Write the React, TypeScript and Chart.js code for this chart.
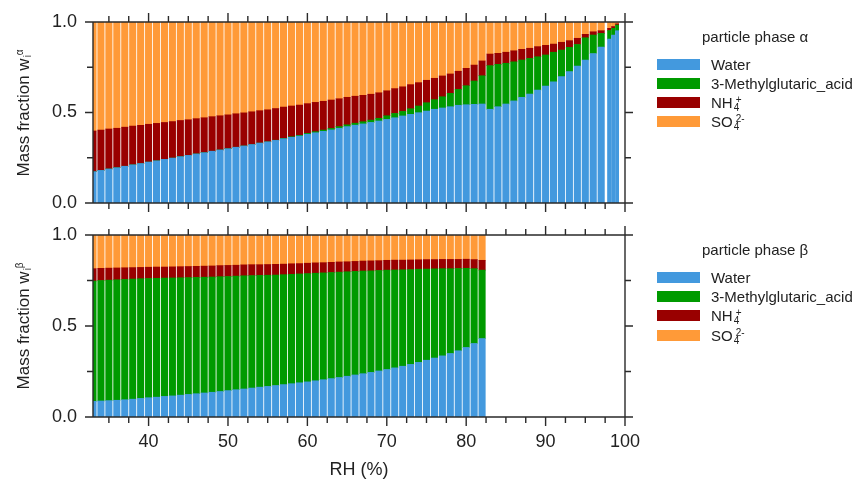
import React, { useEffect, useRef } from 'react';
import { Chart, registerables } from 'chart.js';

Chart.register(...registerables);

const FONT = '"Liberation Sans", Arial, Helvetica, sans-serif';
Chart.defaults.font.family = FONT;

// ---------- data: particle phase alpha ----------
const RH_ALPHA = [
  33, 34, 35, 36, 37, 38, 39, 40, 41, 42, 43, 44, 45, 46, 47, 48, 49, 50, 51, 52, 53, 54, 55, 56, 57,
  58, 59, 60, 61, 62, 63, 64, 65, 66, 67, 68, 69, 70, 71, 72, 73, 74, 75, 76, 77, 78, 79, 80, 81, 82,
  83, 84, 85, 86, 87, 88, 89, 90, 91, 92, 93, 94, 95, 96, 97, 98, 98.5, 99,
];
const WATER_ALPHA = [
  0.173, 0.180, 0.188, 0.195, 0.203, 0.211, 0.218, 0.226, 0.233, 0.241, 0.248, 0.256, 0.263, 0.271, 0.278,
  0.286, 0.293, 0.300, 0.308, 0.315, 0.323, 0.331, 0.338, 0.346, 0.355, 0.363, 0.370, 0.380, 0.388, 0.396,
  0.404, 0.413, 0.422, 0.430, 0.437, 0.445, 0.453, 0.462, 0.471, 0.481, 0.490, 0.499, 0.508, 0.518, 0.525,
  0.532, 0.540, 0.543, 0.545, 0.547, 0.518, 0.532, 0.547, 0.564, 0.584, 0.602, 0.624, 0.646, 0.670, 0.698,
  0.726, 0.757, 0.790, 0.826, 0.862, 0.905, 0.928, 0.952,
];
const ACID_ALPHA = [
  0, 0, 0, 0, 0, 0, 0, 0, 0, 0, 0, 0, 0, 0, 0, 0, 0, 0, 0, 0, 0, 0, 0, 0.001, 0.002,
  0.003, 0.004, 0.005, 0.006, 0.007, 0.008, 0.009, 0.010, 0.011, 0.012, 0.013, 0.015, 0.020, 0.024, 0.025,
  0.031, 0.037, 0.046, 0.053, 0.062, 0.074, 0.088, 0.105, 0.129, 0.156, 0.241, 0.234, 0.225, 0.216, 0.206,
  0.197, 0.184, 0.172, 0.163, 0.147, 0.134, 0.119, 0.123, 0.102, 0.075, 0.048, 0.037, 0.031,
];
const NH4_ALPHA = [
  0.225, 0.223, 0.221, 0.218, 0.216, 0.214, 0.211, 0.209, 0.207, 0.204, 0.202, 0.200, 0.197, 0.195, 0.193,
  0.191, 0.189, 0.187, 0.185, 0.183, 0.181, 0.179, 0.177, 0.175, 0.173, 0.170, 0.167, 0.164, 0.162, 0.159,
  0.157, 0.154, 0.152, 0.149, 0.146, 0.143, 0.141, 0.138, 0.137, 0.136, 0.133, 0.129, 0.124, 0.118, 0.115,
  0.107, 0.100, 0.096, 0.088, 0.082, 0.064, 0.061, 0.061, 0.061, 0.059, 0.056, 0.056, 0.053, 0.045, 0.043,
  0.037, 0.034, 0.019, 0.018, 0.015, 0.012, 0.010, 0.007,
];
const SO4_ALPHA = [
  0.602, 0.597, 0.591, 0.587, 0.581, 0.575, 0.571, 0.565, 0.560, 0.555, 0.550, 0.544, 0.540, 0.534, 0.529,
  0.523, 0.518, 0.513, 0.507, 0.502, 0.496, 0.490, 0.485, 0.478, 0.470, 0.464, 0.459, 0.451, 0.444, 0.438,
  0.431, 0.424, 0.416, 0.410, 0.405, 0.399, 0.391, 0.380, 0.368, 0.358, 0.346, 0.335, 0.322, 0.311, 0.298,
  0.287, 0.272, 0.256, 0.238, 0.215, 0.177, 0.173, 0.167, 0.159, 0.151, 0.145, 0.136, 0.129, 0.122, 0.112,
  0.103, 0.090, 0.068, 0.054, 0.048, 0.035, 0.025, 0.010,
];

// ---------- data: particle phase beta ----------
const RH_BETA = [
  33, 34, 35, 36, 37, 38, 39, 40, 41, 42, 43, 44, 45, 46, 47, 48, 49, 50, 51, 52, 53, 54, 55, 56, 57,
  58, 59, 60, 61, 62, 63, 64, 65, 66, 67, 68, 69, 70, 71, 72, 73, 74, 75, 76, 77, 78, 79, 80, 81, 82,
];
const WATER_BETA = [
  0.086, 0.088, 0.090, 0.092, 0.095, 0.098, 0.102, 0.106, 0.109, 0.113, 0.116, 0.120, 0.124, 0.128, 0.132,
  0.136, 0.140, 0.145, 0.150, 0.154, 0.159, 0.164, 0.168, 0.173, 0.178, 0.183, 0.188, 0.193, 0.199, 0.205,
  0.211, 0.217, 0.224, 0.231, 0.238, 0.245, 0.253, 0.261, 0.270, 0.279, 0.289, 0.300, 0.312, 0.324, 0.336,
  0.349, 0.364, 0.382, 0.404, 0.431,
];
const ACID_BETA = [
  0.661, 0.662, 0.662, 0.662, 0.661, 0.660, 0.658, 0.655, 0.653, 0.650, 0.648, 0.645, 0.642, 0.639, 0.636,
  0.633, 0.631, 0.627, 0.624, 0.622, 0.618, 0.614, 0.611, 0.607, 0.604, 0.601, 0.598, 0.595, 0.591, 0.587,
  0.583, 0.579, 0.574, 0.569, 0.564, 0.558, 0.552, 0.546, 0.538, 0.530, 0.521, 0.512, 0.501, 0.490, 0.479,
  0.466, 0.452, 0.435, 0.411, 0.376,
];
const NH4_BETA = [
  0.068, 0.067, 0.066, 0.065, 0.064, 0.063, 0.062, 0.062, 0.062, 0.061, 0.061, 0.061, 0.061, 0.061, 0.061,
  0.061, 0.061, 0.061, 0.060, 0.060, 0.060, 0.059, 0.059, 0.059, 0.058, 0.058, 0.057, 0.057, 0.057, 0.056,
  0.056, 0.056, 0.055, 0.055, 0.055, 0.055, 0.054, 0.054, 0.054, 0.053, 0.053, 0.052, 0.052, 0.051, 0.051,
  0.051, 0.050, 0.050, 0.050, 0.054,
];
const SO4_BETA = [
  0.185, 0.183, 0.182, 0.181, 0.180, 0.179, 0.178, 0.177, 0.176, 0.176, 0.175, 0.174, 0.173, 0.172, 0.171,
  0.170, 0.168, 0.167, 0.166, 0.164, 0.163, 0.163, 0.162, 0.161, 0.160, 0.158, 0.157, 0.155, 0.153, 0.152,
  0.150, 0.148, 0.147, 0.145, 0.143, 0.142, 0.141, 0.139, 0.138, 0.138, 0.137, 0.136, 0.135, 0.135, 0.134,
  0.134, 0.134, 0.133, 0.135, 0.139,
];

// ---------- labels / styling ----------
const SERIES_LABELS = [
  { base: 'Water' },
  { base: '3-Methylglutaric_acid' },
  { base: 'NH', sub: '4', sup: '+' },
  { base: 'SO', sub: '4', sup: '2-' },
];
const SERIES_COLORS = ['#4399de', '#009a00', '#990000', '#ff9a38'];
const X_MIN = 33;
const X_MAX = 100;
const X_TICK_STEP = 2.5;
const X_LABEL_EVERY = 10;
const Y_TICK_STEP = 0.25;
const Y_LABEL_EVERY = 0.5;
const X_TITLE = 'RH (%)';
const Y_TITLE = 'Mass fraction w';
const LEGEND_TITLE = 'particle phase';

const PLOT_LEFT = 93;
const PLOT_RIGHT = 625;
const BAR_FILL = 0.81;
const AXIS_COLOR = '#2a2a2a';
const TEXT_COLOR = '#222';

const isMultiple = (v: number, step: number) => Math.abs(v / step - Math.round(v / step)) < 1e-6;

function localStep(rh: number[], i: number) {
  const d: number[] = [];
  if (i > 0) d.push(rh[i] - rh[i - 1]);
  if (i < rh.length - 1) d.push(rh[i + 1] - rh[i]);
  return Math.round(Math.min(...d) * 1000) / 1000;
}

const framePlugin = {
  id: 'frameTicks',
  afterDraw(chart: any) {
    const { ctx, chartArea } = chart;
    const { left, right, top, bottom } = chartArea;
    const xs = chart.scales.x;
    const ys = chart.scales.y;
    ctx.save();
    ctx.strokeStyle = AXIS_COLOR;
    ctx.lineWidth = 1.4;
    ctx.beginPath();
    ctx.rect(left, top, right - left, bottom - top);
    xs.ticks.forEach((t: any) => {
      const px = xs.getPixelForValue(t.value);
      const len = isMultiple(t.value, X_LABEL_EVERY) ? 9 : 6;
      ctx.moveTo(px, top);
      ctx.lineTo(px, top - len);
      ctx.moveTo(px, bottom);
      ctx.lineTo(px, bottom + len);
    });
    ys.ticks.forEach((t: any) => {
      const py = ys.getPixelForValue(t.value);
      const len = isMultiple(t.value, Y_LABEL_EVERY) ? 8 : 6;
      ctx.moveTo(left, py);
      ctx.lineTo(left - len, py);
      ctx.moveTo(right, py);
      ctx.lineTo(right + len, py);
    });
    ctx.stroke();
    ctx.restore();
  },
};

type PhaseChartProps = {
  rh: number[];
  series: number[][];
  top: number;
  height: number;
  padTop: number;
  axisHeight: number;
  showX: boolean;
};

function PhaseChart({ rh, series, top, height, padTop, axisHeight, showX }: PhaseChartProps) {
  const ref = useRef<HTMLCanvasElement>(null);
  useEffect(() => {
    const pxPerUnit = (PLOT_RIGHT - PLOT_LEFT) / (X_MAX - X_MIN);
    const steps = rh.map((_, i) => localStep(rh, i));
    const groups = Array.from(new Set(steps)).sort((a, b) => b - a);
    const datasets: any[] = [];
    groups.forEach((g) => {
      series.forEach((vals, si) => {
        const data: any[] = [];
        rh.forEach((x, i) => {
          if (steps[i] === g) data.push({ x, y: vals[i] });
        });
        datasets.push({
          label: SERIES_LABELS[si].base,
          data,
          backgroundColor: SERIES_COLORS[si],
          borderWidth: 0,
          stack: 'phase',
          barThickness: g * pxPerUnit * BAR_FILL,
        });
      });
    });

    const chart = new Chart(ref.current as HTMLCanvasElement, {
      type: 'bar',
      data: { datasets },
      options: {
        responsive: false,
        animation: false,
        devicePixelRatio: 1,
        events: [],
        layout: { padding: { top: padTop, right: 860 - PLOT_RIGHT, bottom: 0, left: 0 } },
        plugins: { legend: { display: false }, tooltip: { enabled: false } },
        scales: {
          x: {
            type: 'linear',
            min: X_MIN,
            max: X_MAX,
            offset: false,
            stacked: true,
            grid: { display: false, drawTicks: false },
            border: { display: false },
            ticks: {
              display: showX,
              stepSize: X_TICK_STEP,
              includeBounds: false,
              autoSkip: false,
              maxRotation: 0,
              padding: 14,
              color: TEXT_COLOR,
              font: { size: 18 },
              callback: (v: any) => (isMultiple(Number(v), X_LABEL_EVERY) ? String(v) : ''),
            },
            title: {
              display: showX,
              text: X_TITLE,
              color: TEXT_COLOR,
              font: { size: 18 },
              padding: { top: 0, bottom: 0 },
            },
            afterFit: (s: any) => {
              s.height = axisHeight;
            },
          },
          y: {
            type: 'linear',
            min: 0,
            max: 1,
            stacked: true,
            grid: { display: false, drawTicks: true, tickLength: 16 },
            border: { display: false },
            ticks: {
              stepSize: Y_TICK_STEP,
              autoSkip: false,
              padding: 0,
              color: TEXT_COLOR,
              font: { size: 18 },
              callback: (v: any) => (isMultiple(Number(v), Y_LABEL_EVERY) ? Number(v).toFixed(1) : ''),
            },
            afterFit: (s: any) => {
              s.width = PLOT_LEFT;
            },
          },
        },
      } as any,
      plugins: [framePlugin],
    });
    return () => chart.destroy();
  }, []);
  return (
    <canvas
      ref={ref}
      width={860}
      height={height}
      style={{ position: 'absolute', left: 0, top, width: 860, height, display: 'block' }}
    />
  );
}

function Script({ sup, sub, size, raise }: { sup: string; sub: string; size: number; raise: number }) {
  return (
    <span
      style={{
        display: 'inline-flex',
        flexDirection: 'column',
        alignItems: 'flex-start',
        fontSize: size,
        lineHeight: 0.8,
        verticalAlign: `${raise}px`,
        marginLeft: 1,
      }}
    >
      <span style={{ marginLeft: 2 }}>{sup}</span>
      <span>{sub}</span>
    </span>
  );
}

function YTitle({ cy, phase }: { cy: number; phase: string }) {
  const cx = 24;
  return (
    <div
      style={{
        position: 'absolute',
        left: cx - 110,
        top: cy - 12,
        width: 220,
        height: 24,
        lineHeight: '24px',
        textAlign: 'center',
        fontSize: 17,
        whiteSpace: 'nowrap',
        transform: 'rotate(-90deg)',
        transformOrigin: '50% 50%',
        color: TEXT_COLOR,
      }}
    >
      {Y_TITLE}
      <Script sup={phase} sub="i" size={10} raise={6} />
    </div>
  );
}

function Legend({ titleCy, phase }: { titleCy: number; phase: string }) {
  return (
    <div style={{ position: 'absolute', left: 657, top: titleCy - 10, fontSize: 15, color: TEXT_COLOR }}>
      <div style={{ marginLeft: 45, height: 20, lineHeight: '20px', whiteSpace: 'nowrap' }}>
        {LEGEND_TITLE} {phase}
      </div>
      <div style={{ height: 8 }} />
      {SERIES_LABELS.map((s, i) => (
        <div key={i} style={{ display: 'flex', alignItems: 'center', height: 19.2, whiteSpace: 'nowrap' }}>
          <span style={{ display: 'inline-block', width: 43, height: 11, background: SERIES_COLORS[i], marginRight: 11 }} />
          <span style={{ lineHeight: '19px' }}>
            {s.base}
            {s.sub ? <Script sup={s.sup as string} sub={s.sub} size={10} raise={5} /> : null}
          </span>
        </div>
      ))}
    </div>
  );
}

export default function App() {
  return (
    <div
      style={{
        position: 'fixed',
        left: 0,
        top: 0,
        width: 860,
        height: 481,
        background: '#ffffff',
        overflow: 'hidden',
        fontFamily: FONT,
      }}
    >
      <PhaseChart
        rh={RH_ALPHA}
        series={[WATER_ALPHA, ACID_ALPHA, NH4_ALPHA, SO4_ALPHA]}
        top={0}
        height={225}
        padTop={22}
        axisHeight={22}
        showX={false}
      />
      <PhaseChart
        rh={RH_BETA}
        series={[WATER_BETA, ACID_BETA, NH4_BETA, SO4_BETA]}
        top={224}
        height={257}
        padTop={11}
        axisHeight={64}
        showX={true}
      />
      <YTitle cy={112.5} phase="α" />
      <YTitle cy={326} phase="β" />
      <Legend titleCy={36.7} phase="α" />
      <Legend titleCy={250} phase="β" />
    </div>
  );
}
